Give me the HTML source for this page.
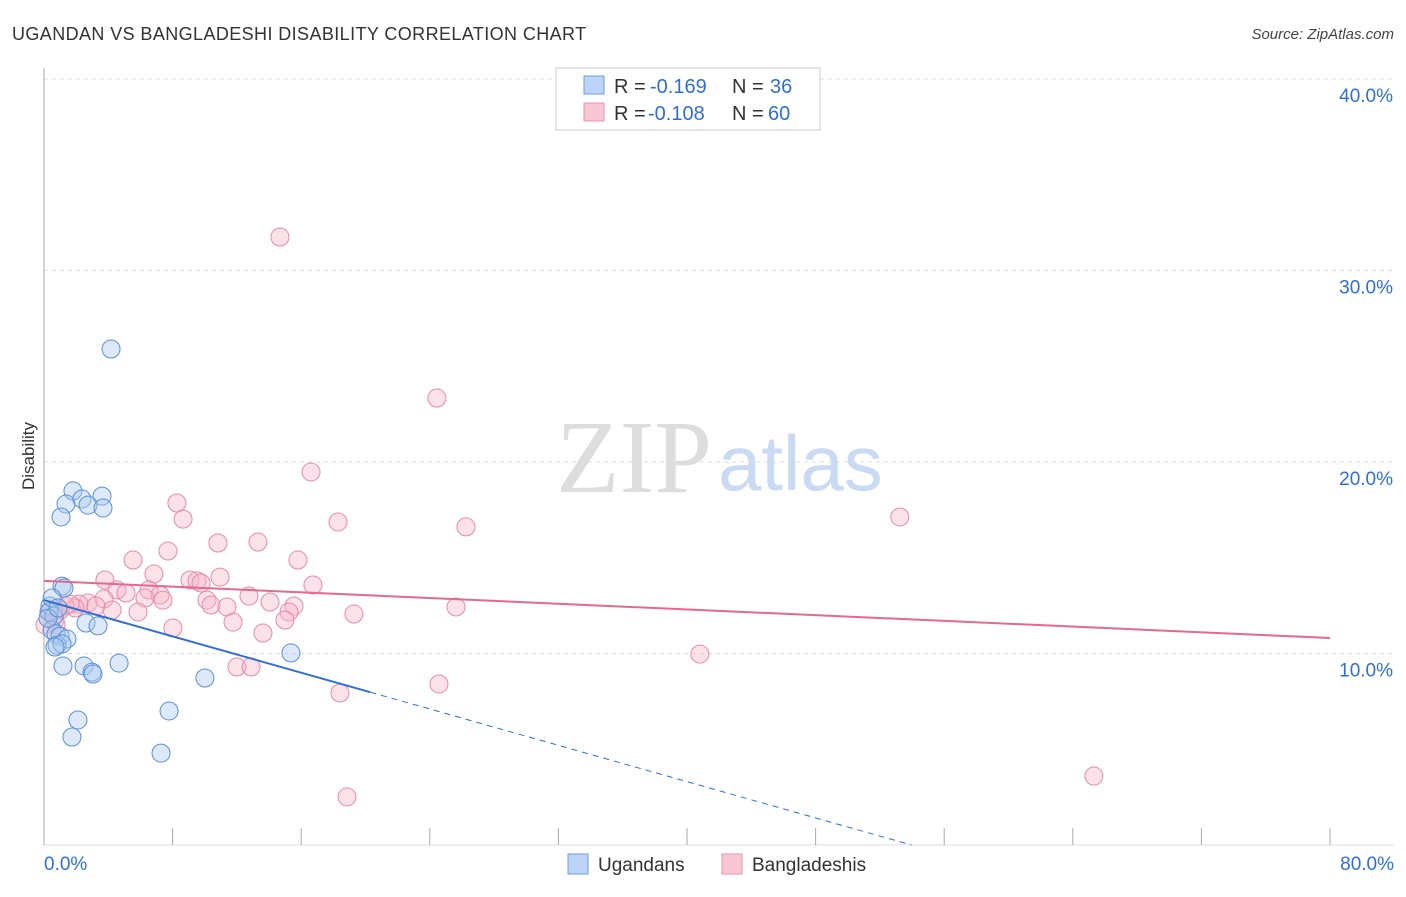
<!DOCTYPE html>
<html><head><meta charset="utf-8"><style>
body{margin:0;background:#fff;font-family:"Liberation Sans",sans-serif}
</style></head><body>
<svg width="1406" height="892" xmlns="http://www.w3.org/2000/svg" font-family="Liberation Sans, sans-serif">
<text x="12" y="40" font-size="18" fill="#333" letter-spacing="0.4">UGANDAN VS BANGLADESHI DISABILITY CORRELATION CHART</text>
<text x="1394" y="39" font-size="15" fill="#444" text-anchor="end" font-style="italic">Source: ZipAtlas.com</text>
<text x="712" y="492" font-size="104" text-anchor="end" fill="#ddd" font-family="Liberation Serif, serif">ZIP</text>
<text x="718" y="490" font-size="78" fill="#c9daf2">atlas</text>
<g id="grid"></g>
<g id="marks"></g>
<text transform="translate(34,456) rotate(-90)" font-size="17" fill="#333" text-anchor="middle">Disability</text>
<g>
<rect x="556" y="68" width="264" height="62" fill="#fff" stroke="#ccc"/>
<rect x="584" y="76" width="20" height="18" fill="#bcd4f5" stroke="#6d9be0"/>
<rect x="584" y="103" width="20" height="18" fill="#f9c6d4" stroke="#ea93ad"/>
<text x="614" y="93" font-size="20" fill="#333">R = </text>
<text x="650" y="93" font-size="20" fill="#2f6fd6">-0.169</text>
<text x="732" y="93" font-size="20" fill="#333">N = </text>
<text x="770" y="93" font-size="20" fill="#2f6fd6">36</text>
<text x="614" y="120" font-size="20" fill="#333">R = </text>
<text x="648" y="120" font-size="20" fill="#2f6fd6">-0.108</text>
<text x="732" y="120" font-size="20" fill="#333">N = </text>
<text x="768" y="120" font-size="20" fill="#2f6fd6">60</text>
</g>
<g>
<rect x="568" y="854" width="20" height="20" fill="#bcd4f5" stroke="#6d9be0"/>
<text x="598" y="871" font-size="19" fill="#333">Ugandans</text>
<rect x="722" y="854" width="20" height="20" fill="#f9c6d4" stroke="#ea93ad"/>
<text x="752" y="871" font-size="19" fill="#333">Bangladeshis</text>
</g>
</svg>
<script>
const xTicks=[0,8,16,24,32,40,48,56,64,72,80];
const yTicks=[10,20,30,40];
const yTickLabels=["10.0%","20.0%","30.0%","40.0%"];
const xEndLabels=["0.0%","80.0%"];
const blueX=[4.17,1.80,1.37,2.36,3.61,2.74,3.67,1.06,1.12,1.24,0.37,0.31,0.62,0.50,0.75,1.00,1.43,0.81,1.12,0.68,2.61,3.36,1.18,2.49,2.99,3.05,4.67,15.36,10.01,2.11,1.74,7.78,7.28,0.25,0.50,0.87];
const blueY=[25.9,18.49,17.81,18.07,18.22,17.75,17.60,17.13,13.52,13.42,12.48,12.17,11.96,11.23,11.02,10.91,10.76,10.44,10.50,10.34,11.59,11.44,9.35,9.35,9.03,8.93,9.50,10.03,8.72,6.53,5.64,7.00,4.80,11.85,12.90,12.38];
const pinkX=[14.68,24.44,16.61,26.25,18.29,53.24,8.27,8.65,10.82,13.31,7.71,5.54,15.80,6.84,10.95,9.08,3.79,9.52,9.77,16.73,4.54,6.53,5.10,7.22,12.75,3.73,2.74,2.18,6.28,7.40,10.14,10.39,14.06,15.55,11.38,1.93,1.31,4.23,5.85,15.24,19.28,25.63,14.99,11.76,0.68,0.75,8.02,13.62,40.80,12.00,12.88,24.57,18.41,65.31,18.85,0.37,1.00,0.06,1.62,3.23];
const pinkY=[31.75,23.34,19.48,16.61,16.87,17.13,17.86,17.02,15.77,15.82,15.35,14.88,14.88,14.15,13.99,13.84,13.84,13.79,13.68,13.58,13.32,13.32,13.16,13.05,13.00,12.85,12.64,12.58,12.90,12.79,12.79,12.53,12.69,12.48,12.43,12.38,12.48,12.27,12.17,12.17,12.06,12.43,11.75,11.64,11.75,11.49,11.33,11.07,9.97,9.30,9.30,8.41,7.94,3.60,2.51,12.17,12.27,11.49,12.58,12.48];
const blueTrend=[12.79,-0.237,20.3];
const pinkTrend=[13.79,-0.03725];
const X=v=>44+v*1286/80, Y=v=>845-v*19.15;
const NS="http://www.w3.org/2000/svg";
function mk(p,t,a){const e=document.createElementNS(NS,t);for(const k in a)e.setAttribute(k,a[k]);p.appendChild(e);return e;}
const g=document.getElementById('grid'), m=document.getElementById('marks');
yTicks.forEach((t,i)=>{
 const l=mk(g,'line',{x1:44,x2:1394,y1:Y(t),y2:Y(t),stroke:'#ddd','stroke-dasharray':'4,4'});
 
 
 const tx=mk(g,'text',{x:1393,y:Y(t)+23,'font-size':19,fill:'#2f6fd6','text-anchor':'end'});tx.textContent=yTickLabels[i];
 
 
});
const ax=mk(g,'line',{x1:44,x2:44,y1:68,y2:845,stroke:'#aaa'});


const bx=mk(g,'line',{x1:44,x2:1394,y1:845,y2:845,stroke:'#ddd'});


xTicks.forEach(t=>{const l=mk(g,'line',{x1:X(t),x2:X(t),y1:828,y2:845,stroke:'#aaa'});
 
 });
[[0,'start',44],[80,'end',1394]].forEach((d,i)=>{const t=mk(g,'text',{x:d[2],y:870,'font-size':19,fill:'#2f6fd6','text-anchor':d[1]});t.textContent=xEndLabels[i];
 
 });
pinkX.forEach((v,i)=>{const c=mk(m,'circle',{cx:X(v),cy:Y(pinkY[i]),r:9,fill:'#f6b6c8','fill-opacity':0.4,stroke:'#e88aa6','stroke-width':1});
 
 });
blueX.forEach((v,i)=>{const c=mk(m,'circle',{cx:X(v),cy:Y(blueY[i]),r:9,fill:'#a9c8f0','fill-opacity':0.4,stroke:'#5a8fd8','stroke-width':1});
 
 });
const bEnd=blueTrend[2], bZero=-blueTrend[0]/blueTrend[1];
const b1=mk(m,'line',{x1:X(0),y1:Y(blueTrend[0]),x2:X(bEnd),y2:Y(blueTrend[0]+blueTrend[1]*bEnd),stroke:'#2f6fd6','stroke-width':2});


const b2=mk(m,'line',{x1:X(bEnd),y1:Y(blueTrend[0]+blueTrend[1]*bEnd),x2:X(bZero),y2:Y(0),stroke:'#2f6fd6','stroke-width':1,'stroke-dasharray':'6,5'});


const p1=mk(m,'line',{x1:X(0),y1:Y(pinkTrend[0]),x2:X(80),y2:Y(pinkTrend[0]+pinkTrend[1]*80),stroke:'#e4688f','stroke-width':2});


</script>
</body></html>
